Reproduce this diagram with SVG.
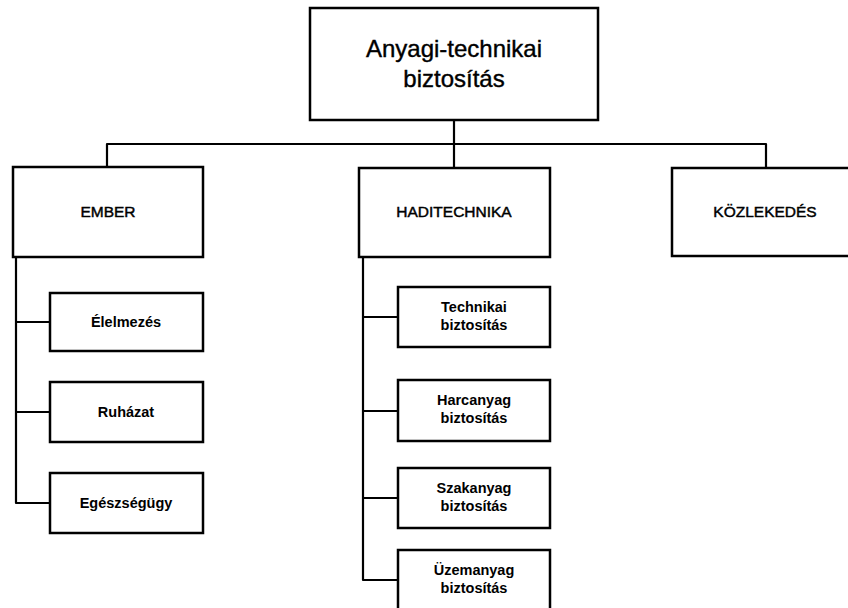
<svg xmlns="http://www.w3.org/2000/svg" width="848" height="608" viewBox="0 0 848 608">
  <style>
    .box { fill: #ffffff; stroke: #000000; stroke-width: 2.5; }
    .wire { fill: none; stroke: #000000; stroke-width: 2.2; stroke-linejoin: round; }
    text { font-family: "Liberation Sans", Arial, sans-serif; fill: #000000; text-anchor: middle; }
    .title { font-size: 24px; stroke: #000000; stroke-width: 0.4; }
    .head { font-size: 15.5px; stroke: #000000; stroke-width: 0.45; }
    .leaf { font-size: 14.5px; font-weight: bold; }
  </style>
  <rect x="0" y="0" width="848" height="608" fill="#ffffff"/>

  <!-- connectors -->
  <g id="connectors">
    <path class="wire" d="M454 120 V168"/>
    <path class="wire" d="M107 167 V144 H766 V168"/>
    <!-- EMBER branch -->
    <path class="wire" d="M16 257 V503 H50"/>
    <path class="wire" d="M16 322 H50"/>
    <path class="wire" d="M16 412 H50"/>
    <!-- HADITECHNIKA branch -->
    <path class="wire" d="M363 257 V580 H398"/>
    <path class="wire" d="M363 317 H398"/>
    <path class="wire" d="M363 411 H398"/>
    <path class="wire" d="M363 498 H398"/>
  </g>

  <!-- root -->
  <g id="root">
    <rect class="box" x="310" y="8" width="288" height="112"/>
    <text class="title" x="454" y="57">Anyagi-technikai</text>
    <text class="title" x="454" y="87">biztosítás</text>
  </g>

  <!-- second level -->
  <g id="ember">
    <rect class="box" x="13" y="167" width="190" height="90"/>
    <text class="head" x="108" y="217">EMBER</text>
  </g>
  <g id="haditechnika">
    <rect class="box" x="359" y="168" width="191" height="89"/>
    <text class="head" x="454" y="217">HADITECHNIKA</text>
  </g>
  <g id="kozlekedes">
    <rect class="box" x="672" y="168" width="200" height="88"/>
    <text class="head" x="765" y="217">KÖZLEKEDÉS</text>
  </g>

  <!-- EMBER children -->
  <g id="elelmezes">
    <rect class="box" x="50" y="293" width="153" height="58"/>
    <text class="leaf" x="126" y="327">Élelmezés</text>
  </g>
  <g id="ruhazat">
    <rect class="box" x="50" y="382" width="153" height="60"/>
    <text class="leaf" x="126" y="417">Ruházat</text>
  </g>
  <g id="egeszsegugy">
    <rect class="box" x="50" y="473" width="153" height="60"/>
    <text class="leaf" x="126" y="508">Egészségügy</text>
  </g>

  <!-- HADITECHNIKA children -->
  <g id="technikai">
    <rect class="box" x="398" y="287" width="152" height="60"/>
    <text class="leaf" x="474" y="312">Technikai</text>
    <text class="leaf" x="474" y="330">biztosítás</text>
  </g>
  <g id="harcanyag">
    <rect class="box" x="398" y="380" width="152" height="61"/>
    <text class="leaf" x="474" y="405">Harcanyag</text>
    <text class="leaf" x="474" y="423">biztosítás</text>
  </g>
  <g id="szakanyag">
    <rect class="box" x="398" y="468" width="152" height="60"/>
    <text class="leaf" x="474" y="493">Szakanyag</text>
    <text class="leaf" x="474" y="511">biztosítás</text>
  </g>
  <g id="uzemanyag">
    <rect class="box" x="398" y="550" width="152" height="62"/>
    <text class="leaf" x="474" y="575">Üzemanyag</text>
    <text class="leaf" x="474" y="593">biztosítás</text>
  </g>
</svg>
